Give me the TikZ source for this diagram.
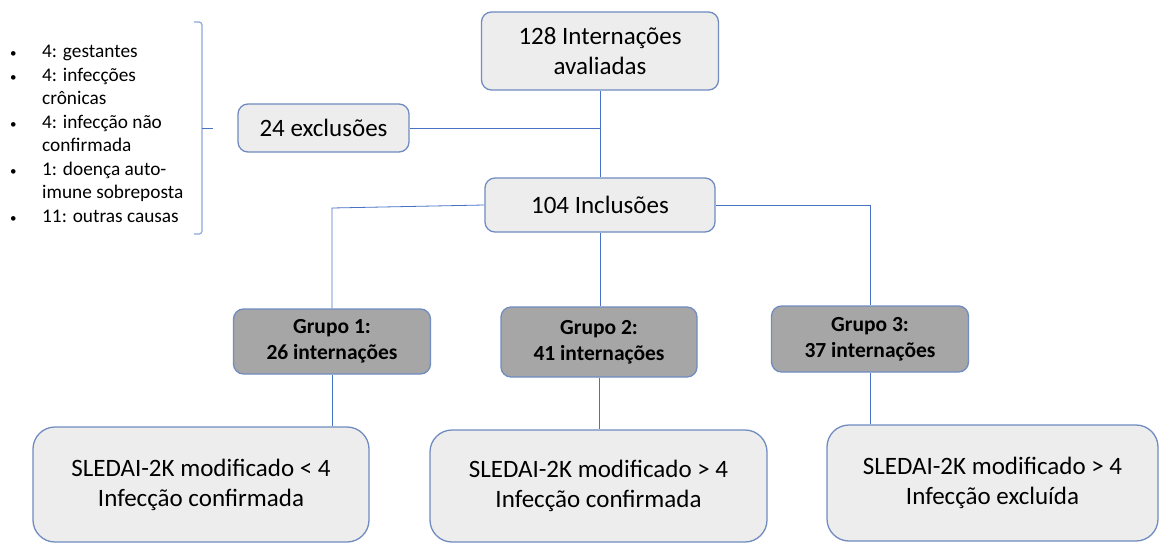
\documentclass[tikz,border=0pt]{standalone}
\usepackage{fontspec}
\setmainfont{Carlito}
\definecolor{boxline}{RGB}{112,140,192}
\definecolor{boxfill}{RGB}{237,237,237}
\definecolor{grpfill}{RGB}{166,166,166}
\definecolor{linkc}{RGB}{72,114,196}
\definecolor{bracec}{RGB}{140,168,218}
\newcommand{\itm}{\hspace*{1pt}{\fontsize{13}{13}\selectfont •}}

\begin{document}
\begin{tikzpicture}[x=1pt,y=-1pt,
  lightbox/.style={draw=boxline,fill=boxfill,line width=1.3pt,rounded corners=10pt,align=center,inner sep=0pt,font=\fontsize{25}{30}\selectfont},
  groupbox/.style={lightbox,fill=grpfill,font=\fontsize{21.5}{26}\selectfont\bfseries},
  resultbox/.style={lightbox,rounded corners=22pt},
  link/.style={draw=linkc,line width=0.8pt}]
\useasboundingbox (0,0) rectangle (1159,543);
\node[lightbox,minimum width=237pt,minimum height=78pt] (eval) at (600,51) {128 Internações\\avaliadas};
\node[lightbox,minimum width=171pt,minimum height=48pt] (excl) at (323.5,128) {24 exclusões};
\node[lightbox,minimum width=230pt,minimum height=54pt] (incl) at (600,205) {104 Inclusões};
\node[groupbox,minimum width=197pt,minimum height=65pt] (g1) at (332,341.5) {Grupo 1:\\26 internações};
\node[groupbox,minimum width=196pt,minimum height=70pt] (g2) at (599,342) {Grupo 2:\\41 internações};
\node[groupbox,minimum width=197pt,minimum height=66pt] (g3) at (870,339) {Grupo 3:\\37 internações};
\node[resultbox,minimum width=336pt,minimum height=115pt] (r1) at (201,484.5) {SLEDAI-2K modificado < 4\\Infecção confirmada};
\node[resultbox,minimum width=337pt,minimum height=112pt] (r2) at (598.5,486) {SLEDAI-2K modificado > 4\\Infecção confirmada};
\node[resultbox,minimum width=331pt,minimum height=116pt] (r3) at (992.5,483) {SLEDAI-2K modificado > 4\\Infecção excluída};
\node[anchor=west,inner sep=0pt,font=\fontsize{19.3}{23.5}\selectfont] (causes) at (9,135.5) {%
  \begin{tabular}{@{}p{33pt}@{}l@{}}
  \itm & 4: gestantes\\
  \itm & 4: infecções\\
       & crônicas\\
  \itm & 4: infecção não\\
       & confirmada\\
  \itm & 1: doença auto-\\
       & imune sobreposta\\
  \itm & 11: outras causas
  \end{tabular}};
\draw[link] (eval.south) -- (incl.north);
\draw[link] (excl.east) -- (excl.east -| eval.south);
\draw[link] (incl.west) -- (332,208) -- (g1.north);
\draw[link] (incl.east) -| (g3.north);
\draw[link] (incl.south) -- (incl.south |- g2.north);
\draw[link] (g1.south) -- (g1.south |- r1.north);
\draw[link] (g2.south) -- (g2.south |- r2.north);
\draw[link] (g3.south) -- (g3.south |- r3.north);
% brace
\draw[bracec,line width=1.2pt,rounded corners=3pt] (194,22) -- (202,22) -- (202,234) -- (194,234);
\draw[link] (202,128) -- (213,128);
\end{tikzpicture}
\end{document}
